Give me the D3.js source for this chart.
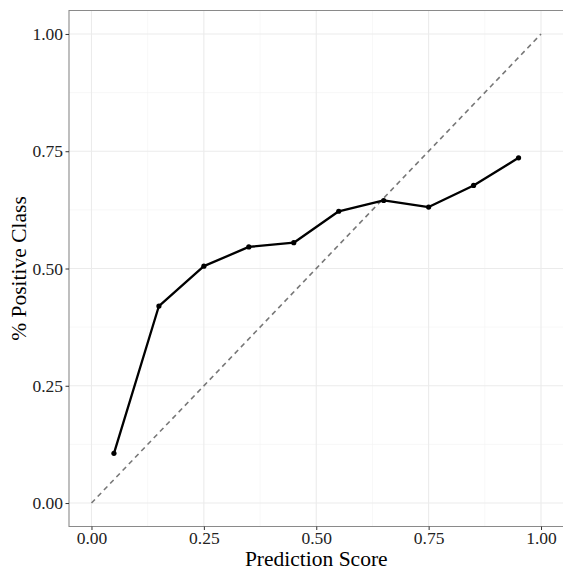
<!DOCTYPE html>
<html>
<head>
<meta charset="utf-8">
<script src="https://cdnjs.cloudflare.com/ajax/libs/d3/7.8.5/d3.min.js"></script>
<style>
  body { margin: 0; background: #fff; }
  svg text { font-family: "Liberation Serif", "Times New Roman", serif; }
</style>
</head>
<body>
<div id="chart"></div>
<script>
var binCenters = [0.05, 0.15, 0.25, 0.35, 0.45, 0.55, 0.65, 0.75, 0.85, 0.95];
var positiveRate = [0.106, 0.420, 0.505, 0.546, 0.555, 0.622, 0.645, 0.631, 0.677, 0.736];
var ticks = [0, 0.25, 0.5, 0.75, 1];
var minorTicks = [0.125, 0.375, 0.625, 0.875];

var width = 563, height = 570;
var pLeft = 69, pTop = 10.5, pRight = 563.5, pBottom = 526.5;

var svg = d3.select("#chart").append("svg")
    .attr("width", width)
    .attr("height", height);

var x = d3.scaleLinear().domain([-0.05, 1.05]).range([pLeft, pRight]);
var y = d3.scaleLinear().domain([-0.05, 1.05]).range([pBottom, pTop]);

// grid
var grid = svg.append("g");
grid.selectAll(".mx").data(minorTicks).enter().append("line")
    .attr("x1", d => x(d)).attr("x2", d => x(d))
    .attr("y1", pTop).attr("y2", pBottom)
    .attr("stroke", "#f4f4f4").attr("stroke-width", 0.6);
grid.selectAll(".my").data(minorTicks).enter().append("line")
    .attr("y1", d => y(d)).attr("y2", d => y(d))
    .attr("x1", pLeft).attr("x2", pRight)
    .attr("stroke", "#f4f4f4").attr("stroke-width", 0.6);
grid.selectAll(".gx").data(ticks).enter().append("line")
    .attr("x1", d => x(d)).attr("x2", d => x(d))
    .attr("y1", pTop).attr("y2", pBottom)
    .attr("stroke", "#ebebeb").attr("stroke-width", 1.1);
grid.selectAll(".gy").data(ticks).enter().append("line")
    .attr("y1", d => y(d)).attr("y2", d => y(d))
    .attr("x1", pLeft).attr("x2", pRight)
    .attr("stroke", "#ebebeb").attr("stroke-width", 1.1);

// diagonal reference
svg.append("line")
    .attr("x1", x(0)).attr("y1", y(0))
    .attr("x2", x(1)).attr("y2", y(1))
    .attr("stroke", "#777")
    .attr("stroke-width", 1.6)
    .attr("stroke-dasharray", "5,4");

// calibration line
var pts = binCenters.map((d, i) => [d, positiveRate[i]]);
var line = d3.line().x(d => x(d[0])).y(d => y(d[1]));
svg.append("path")
    .attr("d", line(pts))
    .attr("fill", "none")
    .attr("stroke", "#000")
    .attr("stroke-width", 2.3)
    .attr("stroke-linejoin", "round");
svg.selectAll(".pt").data(pts).enter().append("circle")
    .attr("cx", d => x(d[0])).attr("cy", d => y(d[1]))
    .attr("r", 2.6).attr("fill", "#000");

// border (top, left, bottom)
svg.append("path")
    .attr("d", "M" + pRight + "," + pTop + "H" + pLeft + "V" + pBottom + "H" + pRight)
    .attr("fill", "none")
    .attr("stroke", "#8a8a8a")
    .attr("stroke-width", 1.1);

// axes
var xAxis = svg.append("g")
    .attr("transform", "translate(0," + pBottom + ")")
    .call(d3.axisBottom(x).tickValues(ticks).tickFormat(d3.format(".2f")).tickSize(3.5).tickPadding(2));
var yAxis = svg.append("g")
    .attr("transform", "translate(" + pLeft + ",0)")
    .call(d3.axisLeft(y).tickValues(ticks).tickFormat(d3.format(".2f")).tickSize(3.5).tickPadding(2.5));
[xAxis, yAxis].forEach(function(a) {
  a.attr("font-size", null).attr("font-family", null);
  a.select(".domain").remove();
  a.selectAll(".tick line").attr("stroke", "#333");
  a.selectAll(".tick text").attr("fill", "#222").style("font-size", "17.5px");
});

svg.append("text")
    .attr("x", x(0.5)).attr("y", 565.5)
    .attr("text-anchor", "middle")
    .style("font-size", "21.5px")
    .text("Prediction Score");

svg.append("text")
    .attr("transform", "translate(26," + y(0.5) + ") rotate(-90)")
    .attr("text-anchor", "middle")
    .style("font-size", "21.5px")
    .text("% Positive Class");
</script>
</body>
</html>
